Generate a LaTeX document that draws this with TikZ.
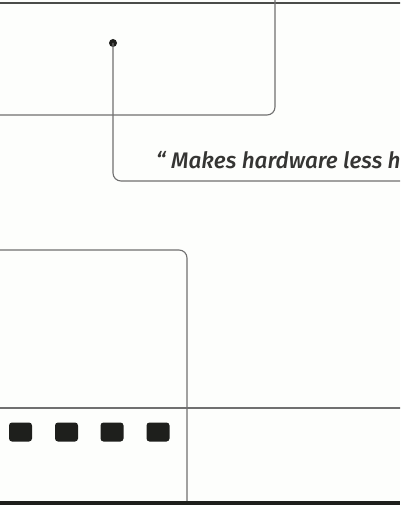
\documentclass[tikz,border=0pt]{standalone}
\usepackage{fontspec}
\newfontfamily\qfont{Fira Sans}[ItalicFont={Fira Sans Medium Italic}]
\definecolor{bg}{HTML}{FDFEFC}
\definecolor{ln}{HTML}{707070}
\definecolor{dk}{HTML}{1E1F1C}
\begin{document}
\begin{tikzpicture}[x=1pt,y=-1pt,
  edge/.style={draw=ln,line width=1.1pt},
  sq/.style={fill=dk,draw=none,rounded corners=3pt,minimum width=23pt,minimum height=19pt,inner sep=0pt},
  quote/.style={font=\qfont\itshape\fontsize{22.5}{26}\selectfont,text=dk!90!white,inner sep=0pt,anchor=base west}]
\useasboundingbox (0,0) rectangle (400,505);
\clip (0,0) rectangle (400,505);
\fill[bg] (0,0) rectangle (400,505);
% top rule
\draw[draw=dk!80!white,line width=1.2pt] (-2,3) -- (402,3);
% top box
\draw[edge,rounded corners=8pt] (-5,115) -| (275,-5);
% connector with dot
\node[circle,fill=dk,inner sep=0pt,minimum size=8pt] (dot) at (113,43) {};
\coordinate (qend) at (405,181);
\draw[edge,rounded corners=8pt] (dot.center) |- (qend);
\node[quote] (q) at (156,168) {“ Makes hardware less h};
% bottom box
\draw[edge,rounded corners=8pt] (-5,250) -| (187,510);
\draw[edge] (-5,408) -- (405,408);
% squares
\node[sq] (s1) at (20.5,432) {};
\node[sq] (s2) at (66.5,432) {};
\node[sq] (s3) at (112,432) {};
\node[sq] (s4) at (158,432) {};
% bottom band
\fill[dk] (0,501) rectangle (400,506);
\end{tikzpicture}
\end{document}
